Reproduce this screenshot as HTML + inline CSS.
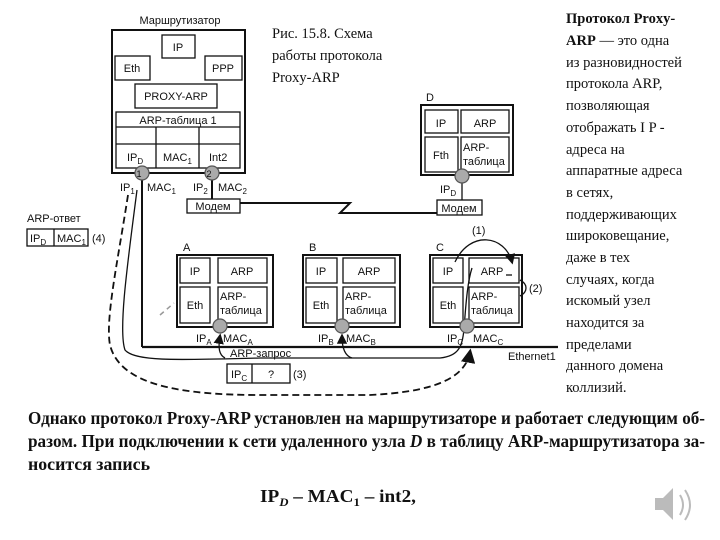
<!DOCTYPE html>
<html><head><meta charset="utf-8"><style>
body{margin:0;background:#fff;}
svg{display:block;}
.s{font-family:"Liberation Sans",sans-serif;font-size:11px;fill:#111;}
.r{font-family:"Liberation Serif",serif;fill:#111;}
</style></head><body>
<svg width="720" height="540" viewBox="0 0 720 540" xmlns="http://www.w3.org/2000/svg">
<defs><marker id="a" markerWidth="8" markerHeight="8" refX="6" refY="4" orient="auto"><path d="M0,0 L8,4 L0,8z" fill="#111"/></marker></defs>
<g fill="none" stroke="#111" stroke-width="1.3">
<rect x="112" y="30" width="133" height="143" stroke-width="2"/>
<rect x="162" y="35" width="33" height="23"/>
<rect x="115" y="56" width="35" height="24"/>
<rect x="205" y="56" width="37" height="24"/>
<rect x="135" y="84" width="82" height="24"/>
<rect x="116" y="112" width="124" height="56"/>
<line x1="116" y1="127" x2="240" y2="127"/><line x1="116" y1="144" x2="240" y2="144"/>
<line x1="156" y1="127" x2="156" y2="168"/><line x1="199" y1="127" x2="199" y2="168"/>
<line x1="142" y1="180" x2="142" y2="347" stroke-width="2"/>
<line x1="212" y1="180" x2="212" y2="199" stroke-width="2"/>
<rect x="187" y="199" width="53" height="14"/>
<polyline points="240,203 350,203 340,213 437,213" stroke-width="2"/>
<rect x="437" y="200" width="45" height="15"/>
<line x1="462" y1="183" x2="462" y2="200"/>
<rect x="421" y="105" width="92" height="70" stroke-width="2"/>
<rect x="425" y="110" width="33" height="23"/><rect x="461" y="110" width="48" height="23"/>
<rect x="425" y="137" width="33" height="35"/><rect x="461" y="137" width="48" height="35"/>
<rect x="177" y="255" width="96" height="72" stroke-width="2"/>
<rect x="180" y="258" width="30" height="25"/><rect x="218" y="258" width="49" height="25"/>
<rect x="180" y="287" width="30" height="36"/><rect x="218" y="287" width="49" height="36"/>
<rect x="303" y="255" width="97" height="72" stroke-width="2"/>
<rect x="306" y="258" width="31" height="25"/><rect x="343" y="258" width="52" height="25"/>
<rect x="306" y="287" width="31" height="36"/><rect x="343" y="287" width="52" height="36"/>
<rect x="430" y="255" width="92" height="72" stroke-width="2"/>
<rect x="433" y="258" width="30" height="25"/><rect x="469" y="258" width="50" height="25"/>
<rect x="433" y="287" width="30" height="36"/><rect x="469" y="287" width="50" height="36"/>
<line x1="142" y1="347" x2="558" y2="347" stroke-width="2.2"/>
<rect x="27" y="229" width="61" height="17"/><line x1="54" y1="229" x2="54" y2="246"/>
<rect x="227" y="364" width="63" height="19"/><line x1="252" y1="364" x2="252" y2="383"/>
<path d="M137,190 C128,260 118,330 125,350 C135,362 180,360 260,358 L440,358 C460,356 462,345 464,330 C466,300 468,280 472,268"/>
<path d="M225,358 C219,355 218,348 220,336" marker-end="url(#a)"/>
<path d="M352,358 C345,356 342,348 342,336" marker-end="url(#a)"/>
<path d="M128,195 C118,260 105,320 110,345 C120,385 180,395 260,395 L370,395 C430,392 465,380 470,352" stroke-dasharray="7,4" stroke-width="1.8" marker-end="url(#a)"/>
<path d="M160,315 L174,303" stroke="#999" stroke-dasharray="5,4" stroke-width="1.5"/>
<path d="M455,262 C470,230 505,235 512,262" marker-end="url(#a)"/>
<path d="M512,275 l-6,0"/>
<path d="M520,280 C528,284 528,292 520,296"/>
</g>
<g fill="#aaa" stroke="#555" stroke-width="1.2">
<circle cx="142" cy="173" r="7"/><circle cx="212" cy="173" r="7"/>
<circle cx="462" cy="176" r="7"/>
<circle cx="220" cy="326" r="7"/><circle cx="342" cy="326" r="7"/><circle cx="467" cy="326" r="7"/>
</g>
<g class="s">
<text x="180" y="24" text-anchor="middle">Маршрутизатор</text>
<text x="178" y="51" text-anchor="middle">IP</text>
<text x="132" y="72" text-anchor="middle">Eth</text>
<text x="223" y="72" text-anchor="middle">PPP</text>
<text x="176" y="100" text-anchor="middle">PROXY-ARP</text>
<text x="178" y="124" text-anchor="middle">ARP-таблица 1</text>
<text x="127" y="161">IP<tspan font-size="8" dy="3">D</tspan></text>
<text x="163" y="161">MAC<tspan font-size="8" dy="3">1</tspan></text>
<text x="209" y="161">Int2</text>
<text x="139" y="177" text-anchor="middle" font-size="9">1</text>
<text x="209" y="177" text-anchor="middle" font-size="9">2</text>
<text x="120" y="191">IP<tspan font-size="8" dy="3">1</tspan></text>
<text x="147" y="191">MAC<tspan font-size="8" dy="3">1</tspan></text>
<text x="193" y="191">IP<tspan font-size="8" dy="3">2</tspan></text>
<text x="218" y="191">MAC<tspan font-size="8" dy="3">2</tspan></text>
<text x="213" y="210" text-anchor="middle">Модем</text>
<text x="459" y="212" text-anchor="middle">Модем</text>
<text x="27" y="222">ARP-ответ</text>
<text x="30" y="242">IP<tspan font-size="8" dy="3">D</tspan></text>
<text x="57" y="242">MAC<tspan font-size="8" dy="3">1</tspan></text>
<text x="92" y="242">(4)</text>
<text x="426" y="101">D</text>
<text x="441" y="127" text-anchor="middle">IP</text><text x="485" y="127" text-anchor="middle">ARP</text>
<text x="441" y="159" text-anchor="middle">Fth</text><text x="463" y="151">ARP-</text><text x="463" y="165">таблица</text>
<text x="440" y="193">IP<tspan font-size="8" dy="3">D</tspan></text>
<text x="183" y="251">A</text><text x="309" y="251">B</text><text x="436" y="251">C</text>
<text x="195" y="275" text-anchor="middle">IP</text><text x="242" y="275" text-anchor="middle">ARP</text>
<text x="195" y="309" text-anchor="middle">Eth</text><text x="220" y="300">ARP-</text><text x="220" y="314">таблица</text>
<text x="321" y="275" text-anchor="middle">IP</text><text x="369" y="275" text-anchor="middle">ARP</text>
<text x="321" y="309" text-anchor="middle">Eth</text><text x="345" y="300">ARP-</text><text x="345" y="314">таблица</text>
<text x="448" y="275" text-anchor="middle">IP</text><text x="492" y="275" text-anchor="middle">ARP</text>
<text x="448" y="309" text-anchor="middle">Eth</text><text x="471" y="300">ARP-</text><text x="471" y="314">таблица</text>
<text x="196" y="342">IP<tspan font-size="8" dy="3">A</tspan></text>
<text x="223" y="342">MAC<tspan font-size="8" dy="3">A</tspan></text>
<text x="318" y="342">IP<tspan font-size="8" dy="3">B</tspan></text>
<text x="346" y="342">MAC<tspan font-size="8" dy="3">B</tspan></text>
<text x="447" y="342">IP<tspan font-size="8" dy="3">C</tspan></text>
<text x="473" y="342">MAC<tspan font-size="8" dy="3">C</tspan></text>
<text x="230" y="357">ARP-запрос</text>
<text x="508" y="360">Ethernet1</text>
<text x="231" y="378">IP<tspan font-size="8" dy="3">C</tspan></text>
<text x="271" y="378" text-anchor="middle">?</text>
<text x="293" y="378">(3)</text>
<text x="472" y="234">(1)</text>
<text x="529" y="292">(2)</text>
</g>
<g class="r" font-size="14.5">
<text x="272" y="38">Рис. 15.8. Схема</text>
<text x="272" y="60">работы протокола</text>
<text x="272" y="82">Proxy-ARP</text>
</g>
<g class="r" font-size="14.5">
<text x="566" y="23" font-weight="bold">Протокол Proxy-</text>
<text x="566" y="45"><tspan font-weight="bold">ARP</tspan> — это одна</text>
<text x="566" y="67">из разновидностей</text>
<text x="566" y="88">протокола ARP,</text>
<text x="566" y="110">позволяющая</text>
<text x="566" y="132">отображать I P -</text>
<text x="566" y="154">адреса на</text>
<text x="566" y="175">аппаратные адреса</text>
<text x="566" y="197">в сетях,</text>
<text x="566" y="219">поддерживающих</text>
<text x="566" y="240">широковещание,</text>
<text x="566" y="262">даже в тех</text>
<text x="566" y="284">случаях, когда</text>
<text x="566" y="305">искомый узел</text>
<text x="566" y="327">находится за</text>
<text x="566" y="349">пределами</text>
<text x="566" y="370">данного домена</text>
<text x="566" y="392">коллизий.</text>
</g>
<g class="r" font-size="18" font-weight="bold">
<text x="28" y="424" textLength="677" lengthAdjust="spacingAndGlyphs">Однако протокол Proxy-ARP установлен на маршрутизаторе и работает следующим об-</text>
<text x="28" y="447" textLength="677" lengthAdjust="spacingAndGlyphs">разом. При подключении к сети удаленного узла <tspan font-style="italic">D</tspan> в таблицу ARP-маршрутизатора за-</text>
<text x="28" y="470" textLength="122" lengthAdjust="spacingAndGlyphs">носится запись</text>
<text x="260" y="502" textLength="156" lengthAdjust="spacingAndGlyphs">IP<tspan font-size="12" dy="4" font-style="italic">D</tspan><tspan dy="-4"> – MAC</tspan><tspan font-size="12" dy="4">1</tspan><tspan dy="-4"> – int2,</tspan></text>
</g>
<g fill="#bbb">
<path d="M655,498 h8 l10,-10 v32 l-10,-10 h-8z"/>
<path d="M680,495 q6,10 0,20 M685,490 q10,15 0,30" stroke="#bbb" stroke-width="2" fill="none"/>
</g>
</svg>
</body></html>
